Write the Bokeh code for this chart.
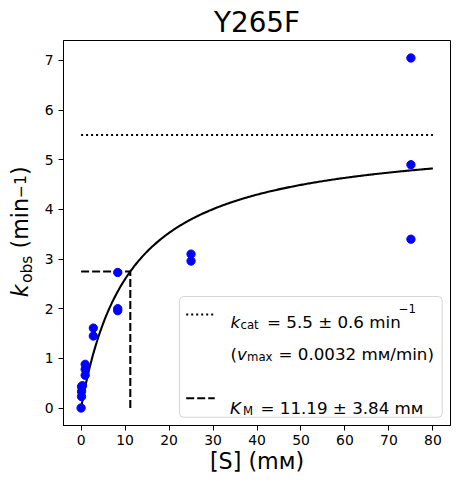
import numpy as np
from bokeh.plotting import figure
from bokeh.layouts import row
from bokeh.models import Range1d, FixedTicker, Label, BoxAnnotation
from bokeh.core.properties import value
from bokeh.embed import file_html
from bokeh.resources import INLINE

# ---------------- data ----------------
title_text = "Y265F"
x_label = "[S] (mᴍ)"
substrate_mM = [0.0, 0.1, 0.1, 0.1, 0.31, 0.93, 0.93, 0.93, 2.78, 2.78,
                8.33, 8.33, 8.33, 25.0, 25.0, 75.0, 75.0, 75.0]
k_obs = [0.0, 0.23, 0.33, 0.43, 0.45, 0.66, 0.78, 0.88, 1.45, 1.61,
         1.96, 2.0, 2.73, 2.96, 3.1, 3.4, 4.9, 7.05]
kcat = 5.5
KM = 11.19
x_ticks = [0, 10, 20, 30, 40, 50, 60, 70, 80]
y_ticks = [0, 1, 2, 3, 4, 5, 6, 7]
s_fit = np.linspace(0, 80, 300)
k_fit = kcat * s_fit / (KM + s_fit)

# ---------------- layout ----------------
H = 476
LW = 40                      # width of the y-label strip
FIG_W = 452 - LW
BL, BR, BT, BB = 63 - LW, 2, 40, 51
X0, X1 = -4.0, 84.0
Y0, Y1 = -0.3525, 7.4025
FW = FIG_W - BL - BR
FH = H - BT - BB
FONT = "DejaVu Sans"


def dx(px):
    return X0 + (px - 63) / FW * (X1 - X0)


def dy(py):
    return Y0 + ((BT + FH) - py) / FH * (Y1 - Y0)


p = figure(width=FIG_W, height=H, output_backend="svg", toolbar_location=None,
           x_range=Range1d(X0, X1), y_range=Range1d(Y0, Y1),
           min_border_left=BL, min_border_right=BR, min_border_top=BT, min_border_bottom=BB)
p.grid.visible = False
p.outline_line_color = "black"
p.outline_line_width = 1
p.background_fill_color = "white"
p.border_fill_color = "white"

p.title.text = title_text
p.title.align = "center"
p.title.text_font = FONT
p.title.text_font_size = "27.8px"
p.title.text_font_style = "normal"
p.title.text_color = "black"
p.title.standoff = 3

for ax, ticks in ((p.xaxis, x_ticks), (p.yaxis, y_ticks)):
    ax.ticker = FixedTicker(ticks=ticks)
    ax.minor_tick_line_color = None
    ax.major_tick_in = 0
    ax.major_tick_out = 5
    ax.major_tick_line_color = "black"
    ax.axis_line_color = "black"
    ax.major_label_text_font = FONT
    ax.major_label_text_font_size = "13.9px"
    ax.major_label_text_color = "black"
p.xaxis.major_label_standoff = 4
p.yaxis.major_label_standoff = 5
p.xaxis.axis_label = x_label
p.xaxis.axis_label_text_font = FONT
p.xaxis.axis_label_text_font_size = "22.2px"
p.xaxis.axis_label_text_font_style = "normal"
p.xaxis.axis_label_text_color = "black"
p.xaxis.axis_label_standoff = 0

# fit curve and reference lines
p.line(s_fit, k_fit, line_color="black", line_width=2.08)
p.line([0, 80], [kcat, kcat], line_color="black", line_width=2.08, line_dash="2 3")
p.line([0, KM], [kcat / 2, kcat / 2], line_color="black", line_width=2.08, line_dash="8 3")
p.line([KM, KM], [0, kcat / 2], line_color="black", line_width=2.08, line_dash="8 3")

# data points
p.scatter(substrate_mM, k_obs, size=8.3, color="#0000ff")


def txt(s, px, py, size, italic=False):
    p.add_layout(Label(x=dx(px), y=dy(py), text=s, text_font=FONT,
                       text_font_size=f"{size}px",
                       text_font_style="italic" if italic else "normal",
                       text_align="left", text_baseline="alphabetic",
                       text_color="black"))


# legend
p.add_layout(BoxAnnotation(left=dx(179), right=dx(441.7), top=dy(296), bottom=dy(416.7),
                           fill_color="white", fill_alpha=0.8,
                           line_color="#cccccc", line_alpha=0.8, line_width=1,
                           border_radius=4, level="underlay"))
p.line([dx(185.7), dx(214.3)], [dy(314), dy(314)], line_color="black",
       line_width=2.08, line_dash="2 3")
p.line([dx(185.7), dx(214.3)], [dy(397.7), dy(397.7)], line_color="black",
       line_width=2.08, line_dash="8 3")

LF, SF = 16.7, 11.7
txt("k", 230, 321.5, LF, italic=True)
txt("cat", 240.0, 324.6, SF)
txt("= 5.5 ± 0.6 min", 266.5, 321.5, LF)
txt("−1", 398.3, 307.5, SF)

txt("(", 230, 353.3, LF)
txt("v", 236.5, 353.3, LF, italic=True)
txt("max", 246.5, 356.4, SF)
txt("= 0.0032 mᴍ/min)", 278, 353.3, LF)

txt("K", 229.5, 407.7, LF, italic=True)
txt("M", 242.5, 410.8, SF)
txt("= 11.19 ± 3.84 mᴍ", 260, 407.7, LF)

# ---------------- y label strip ----------------
lab = figure(width=LW, height=H, output_backend="svg", toolbar_location=None,
             x_range=Range1d(0, LW), y_range=Range1d(H - (BT + FH), H - BT),
             min_border_left=0, min_border_right=0,
             min_border_top=BT, min_border_bottom=BB)
lab.axis.visible = False
lab.grid.visible = False
lab.outline_line_color = None
lab.background_fill_color = "white"
lab.border_fill_color = "white"

YB = 29.5
ylab_pieces = [
    ("k", YB, 296.8, 22.2, "italic"),
    ("obs", YB + 4.0, 282.5, 15.5, "normal"),
    ("(min", YB, 248.0, 22.2, "normal"),
    ("−1", YB - 3.5, 197.5, 15.5, "normal"),
    (")", YB, 174.6, 22.2, "normal"),
]
for s, bx, by, fs, st in ylab_pieces:
    ax_x = bx - 10.0 * fs / 22.2
    lab.text(x=[ax_x], y=[H - by], text=[s], angle=np.pi / 2,
             text_font=value(FONT), text_font_size=value(f"{fs}px"), text_font_style=st,
             text_align="left", text_baseline="alphabetic", text_color="black")

open("out.html", "w").write(file_html(row(lab, p), INLINE))
